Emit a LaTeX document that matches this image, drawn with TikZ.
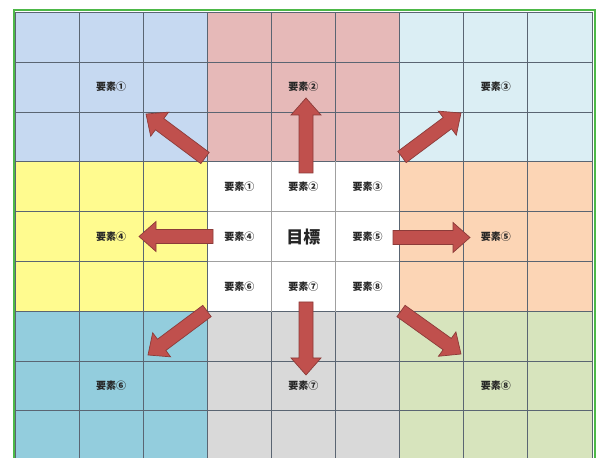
\documentclass[tikz,border=0pt]{standalone}
\usepackage{fontspec}
\newfontfamily\jp{Noto Sans CJK JP}
\usetikzlibrary{calc}
\definecolor{cA}{HTML}{C6D9F1}
\definecolor{cB}{HTML}{E6B9B8}
\definecolor{cC}{HTML}{DBEEF4}
\definecolor{cD}{HTML}{FFFB8F}
\definecolor{cF}{HTML}{FCD5B5}
\definecolor{cG}{HTML}{93CDDD}
\definecolor{cH}{HTML}{D9D9D9}
\definecolor{cI}{HTML}{D7E4BD}
\definecolor{arrowred}{HTML}{C0504D}
\definecolor{arrowedge}{HTML}{8C3B39}
\definecolor{gridline}{HTML}{5A6572}
\definecolor{innerline}{HTML}{A0A0A0}
\definecolor{framegreen}{HTML}{4DB848}
\tikzset{
  blockarrow/.style={fill=arrowred, draw=arrowedge, line width=0.7pt, line join=miter,
    to path={let \p1=($(\tikztotarget)-(\tikztostart)$), \n1={atan2(\y1,\x1)}, \n2={veclen(\x1,\y1)} in
      ($(\tikztostart)+(\n1+90:7pt)$) -- ($(\tikztostart)+(\n1:\n2-17pt)+(\n1+90:7pt)$)
      -- ($(\tikztostart)+(\n1:\n2-17pt)+(\n1+90:15pt)$) -- (\tikztotarget)
      -- ($(\tikztostart)+(\n1:\n2-17pt)+(\n1-90:15pt)$) -- ($(\tikztostart)+(\n1:\n2-17pt)+(\n1-90:7pt)$)
      -- ($(\tikztostart)+(\n1-90:7pt)$) -- cycle}},
  label/.style={font=\jp\bfseries\fontsize{10}{11}\selectfont, text=black!85, inner sep=0pt},
  goal/.style={font=\jp\bfseries\fontsize{17}{18}\selectfont, text=black!85, inner sep=0pt},
  gl/.style={draw=gridline, line width=0.8pt},
  il/.style={draw=innerline, line width=0.8pt}
}
\begin{document}
\begin{tikzpicture}[x=1pt,y=1pt]
\useasboundingbox (0,0) rectangle (598,458);
\clip (0,0) rectangle (598,458);
% blocks
\foreach \c/\bi/\bj in {cA/0/0, cB/1/0, cC/2/0, cD/0/1, white/1/1, cF/2/1, cG/0/2, cH/1/2, cI/2/2} {
  \fill[\c] ({15+64.1*3*\bi}, {458-12.5-49.8*3*\bj}) rectangle ({15+64.1*3*(\bi+1)}, {458-12.5-49.8*3*(\bj+1)});
}
% grid
\foreach \i in {0,...,9} {
  \draw[gl] ({15+64.1*\i}, {458-12.5}) -- ({15+64.1*\i}, -10);
  \draw[gl] (15, {458-12.5-49.8*\i}) -- (592, {458-12.5-49.8*\i});
}
% lighter inner lines of the centre block
\foreach \i in {4,5} {
  \draw[il] ({15+64.1*\i}, {458-12.5-49.8*3+0.6}) -- ({15+64.1*\i}, {458-12.5-49.8*6-0.6});
  \draw[il] ({15+64.1*3+0.6}, {458-12.5-49.8*\i}) -- ({15+64.1*6-0.6}, {458-12.5-49.8*\i});
}
% frame
\draw[framegreen, line width=1.2pt] (14,-10) rectangle (595,448);
% outer labels
\node[label] (o1) at ({15+64.1*1.5}, {458-12.5-49.8*1.5}) {要素①};
\node[label] (o2) at ({15+64.1*4.5}, {458-12.5-49.8*1.5}) {要素②};
\node[label] (o3) at ({15+64.1*7.5}, {458-12.5-49.8*1.5}) {要素③};
\node[label] (o4) at ({15+64.1*1.5}, {458-12.5-49.8*4.5}) {要素④};
\node[label] (o5) at ({15+64.1*7.5}, {458-12.5-49.8*4.5}) {要素⑤};
\node[label] (o6) at ({15+64.1*1.5}, {458-12.5-49.8*7.5}) {要素⑥};
\node[label] (o7) at ({15+64.1*4.5}, {458-12.5-49.8*7.5}) {要素⑦};
\node[label] (o8) at ({15+64.1*7.5}, {458-12.5-49.8*7.5}) {要素⑧};
% centre labels
\node[label] (c1) at ({15+64.1*3.5}, {458-12.5-49.8*3.5}) {要素①};
\node[label] (c2) at ({15+64.1*4.5}, {458-12.5-49.8*3.5}) {要素②};
\node[label] (c3) at ({15+64.1*5.5}, {458-12.5-49.8*3.5}) {要素③};
\node[label] (c4) at ({15+64.1*3.5}, {458-12.5-49.8*4.5}) {要素④};
\node[goal]  (g)  at ({15+64.1*4.5}, {458-12.5-49.8*4.5}) {目標};
\node[label] (c5) at ({15+64.1*5.5}, {458-12.5-49.8*4.5}) {要素⑤};
\node[label] (c6) at ({15+64.1*3.5}, {458-12.5-49.8*5.5}) {要素⑥};
\node[label] (c7) at ({15+64.1*4.5}, {458-12.5-49.8*5.5}) {要素⑦};
\node[label] (c8) at ({15+64.1*5.5}, {458-12.5-49.8*5.5}) {要素⑧};
% arrow ends
\coordinate (sU) at (306,285); \coordinate (tU) at (306,360);
\coordinate (sD) at (306,156); \coordinate (tD) at (306,83);
\coordinate (sL) at (213,221.5); \coordinate (tL) at (139,221.5);
\coordinate (sR) at (393,220.5); \coordinate (tR) at (470,220.5);
\coordinate (sTL) at (205,300); \coordinate (tTL) at (146,344);
\coordinate (sTR) at (402,301); \coordinate (tTR) at (461,345);
\coordinate (sBL) at (207,147); \coordinate (tBL) at (148,103);
\coordinate (sBR) at (401,147); \coordinate (tBR) at (461,104);
\foreach \a in {U,D,L,R,TL,TR,BL,BR} {
  \draw[blockarrow] (s\a) to (t\a);
}
\end{tikzpicture}
\end{document}
